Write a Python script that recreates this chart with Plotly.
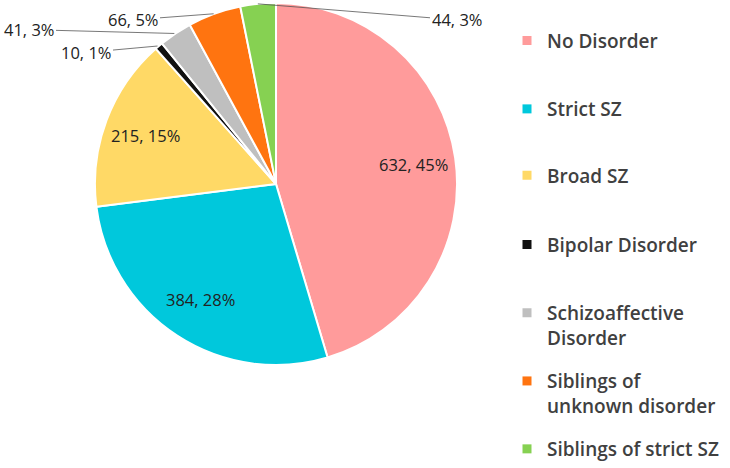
import math
import plotly.graph_objects as go

categories = ["No Disorder", "Strict SZ", "Broad SZ", "Bipolar Disorder",
              "Schizoaffective Disorder", "Siblings of unknown disorder",
              "Siblings of strict SZ"]
legend_labels = ["No Disorder", "Strict SZ", "Broad SZ", "Bipolar Disorder",
                 "Schizoaffective<br>Disorder", "Siblings of<br>unknown disorder",
                 "Siblings of strict SZ"]
counts = [632, 384, 215, 10, 41, 66, 44]
colors = ["#FF9B9B", "#00C8DC", "#FFD966", "#111111", "#BFBFBF", "#FF7410", "#86D152"]

W, H = 730, 468
CX, CY, R = 276, 186, 183  # pie centre / radius in px (layout)

inside = [True, True, True, False, False, False, False]
# outside label text centres (px) for the small slices (layout)
label_pos = {3: (86, 53), 4: (29, 30), 5: (133, 20), 6: (457, 20)}
LABEL_FONT = dict(family="Open Sans", size=16.5, color="#222222")

fig = go.Figure()
fig.add_trace(go.Pie(
    labels=categories, values=counts, sort=False, direction="clockwise",
    rotation=0,
    marker=dict(colors=colors, line=dict(color="white", width=2)),
    textinfo="none",
    domain=dict(x=[(CX - R) / W, (CX + R) / W], y=[(H - CY - R) / H, (H - CY + R) / H]),
    showlegend=False, hoverinfo="label+value+percent",
))

total = sum(counts)
cum = 0
annotations = []
for i, v in enumerate(counts):
    mid = (cum + v / 2) / total * 2 * math.pi
    cum += v
    text = f"{v}, {round(v / total * 100)}%"
    if inside[i]:
        lx = CX + 0.76 * R * math.sin(mid)
        ly = CY - 0.76 * R * math.cos(mid)
        annotations.append(dict(
            x=lx / W, y=(H - ly) / H, xref="paper", yref="paper",
            xanchor="center", yanchor="middle",
            text=text, showarrow=False, font=LABEL_FONT,
        ))
        continue
    tx = CX + R * math.sin(mid)
    ty = CY - R * math.cos(mid)
    lx, ly = label_pos[i]
    annotations.append(dict(
        x=tx / W, y=(H - ty) / H, xref="paper", yref="paper",
        ax=lx - tx, ay=ly - ty, axref="pixel", ayref="pixel",
        text=text, showarrow=True, arrowhead=0,
        arrowwidth=0.8, arrowcolor="#555555", font=LABEL_FONT,
    ))

legend_tops = [37, 106, 173, 243, 312, 381, 450]  # px of first text line centre
layout_legends = {}
for i, (lab, col) in enumerate(zip(legend_labels, colors)):
    name = "legend" if i == 0 else f"legend{i + 1}"
    fig.add_trace(go.Scatter(
        x=[None], y=[None], mode="markers", name=lab,
        marker=dict(symbol="square", size=9, color=col),
        legend=name, showlegend=True,
    ))
    layout_legends[name] = dict(
        x=507 / W, xanchor="left", y=(H - legend_tops[i] + 15) / H, yanchor="top",
        bgcolor="rgba(0,0,0,0)", valign="top",
        font=dict(family="Open Sans", size=19, weight=600, color="#404040"),
    )

fig.update_layout(
    width=W, height=H, margin=dict(l=0, r=0, t=0, b=0),
    paper_bgcolor="white", plot_bgcolor="white",
    xaxis=dict(visible=False), yaxis=dict(visible=False),
    annotations=annotations,
    **layout_legends,
)
fig.write_html("out.html", config={"displayModeBar": False},
               post_script="document.body.style.margin='0px';")
